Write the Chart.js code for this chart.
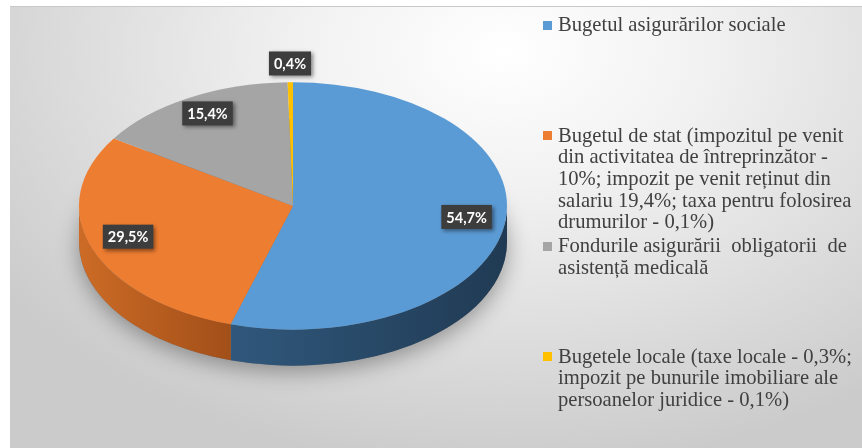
<!DOCTYPE html>
<html>
<head>
<meta charset="utf-8">
<script src="https://cdn.jsdelivr.net/npm/chart.js@4"></script>
<style>
html, body { margin: 0; padding: 0; background: #fff; }
#wrap { position: relative; width: 862px; height: 448px; overflow: hidden; }
#bg {
    position: absolute; left: 10px; top: 6px; right: 0; bottom: 0;
    border-top: 1px solid #c9c9c9;
    background: radial-gradient(ellipse 72% 95% at 58% 10%, #ffffff 0%, #f2f2f2 32%, #cbcbcb 100%);
}
#chart { position: absolute; left: 0; top: 0; }
#legend {
    position: absolute; left: 541px; top: 14px; width: 321px;
    font-family: "Liberation Serif", "Times New Roman", serif;
    font-size: 20.6px; color: #404040;
}
#legend .item { position: relative; height: 110.5px; padding-left: 17px; }
#legend .sw { position: absolute; left: 2px; top: 6.5px; width: 9px; height: 9px; }
#legend .ln { white-space: pre; line-height: 21.7px; }
</style>
</head>
<body>
<div id="wrap">
    <div id="bg"></div>
    <canvas id="chart" width="862" height="448"></canvas>
    <div id="legend"></div>
</div>
<script>
// categories, one array of lines per slice (wrapped the way the legend shows them)
const categories = [
    ['Bugetul asigurărilor sociale'],
    ['Bugetul de stat (impozitul pe venit', 'din activitatea de întreprinzător -', '10%; impozit pe venit reținut din', 'salariu 19,4%; taxa pentru folosirea', 'drumurilor - 0,1%)'],
    ['Fondurile asigurării  obligatorii  de', 'asistență medicală'],
    ['Bugetele locale (taxe locale - 0,3%;', 'impozit pe bunurile imobiliare ale', 'persoanelor juridice - 0,1%)']
];
const shares = [54.7, 29.5, 15.4, 0.4];

const topColors = ['#5b9bd5', '#ed7d31', '#a5a5a5', '#ffc000'];
const sideColors = [['#30587c', '#203a53'], ['#cc6b26', '#a24f19'], ['#7c7c7c', '#5e5e5e'], ['#bf9000', '#a07800']];

const TILT = 0.578;   // vertical squash of the disc
const DEPTH = 36;     // thickness of the side wall
const PIE_CY = 206;   // where the squashed centre lands

function fmt(v) {
    return v.toFixed(1).replace('.', ',') + '%';
}

const pie3d = {
    id: 'pie3d',
    beforeDatasetsDraw(chart) {
        const ctx = chart.ctx;
        const arcs = chart.getDatasetMeta(0).data;
        const cx = arcs[0].x, r = arcs[0].outerRadius, ry = r * TILT;

        // soft shadow under the disc
        ctx.save();
        ctx.shadowColor = 'rgba(0,0,0,0.35)';
        ctx.shadowBlur = 22;
        ctx.shadowOffsetY = 6;
        ctx.fillStyle = '#777';
        ctx.beginPath();
        ctx.ellipse(cx, PIE_CY + DEPTH, r, ry, 0, 0, Math.PI * 2);
        ctx.fill();
        ctx.restore();

        // side walls, only the front half is visible
        arcs.forEach((a, i) => {
            [0, -2 * Math.PI].forEach(shift => {
                const s = Math.max(a.startAngle + shift, 0);
                const e = Math.min(a.endAngle + shift, Math.PI);
                if (e <= s) return;
                const x0 = cx + r * Math.cos(s), x1 = cx + r * Math.cos(e);
                const g = ctx.createLinearGradient(Math.min(x0, x1), 0, Math.max(x0, x1), 0);
                g.addColorStop(0, sideColors[i][0]);
                g.addColorStop(1, sideColors[i][1]);
                ctx.beginPath();
                ctx.ellipse(cx, PIE_CY, r, ry, 0, s, e);
                ctx.ellipse(cx, PIE_CY + DEPTH, r, ry, 0, e, s, true);
                ctx.closePath();
                ctx.fillStyle = g;
                ctx.fill();
            });
        });

        // squash the top face
        ctx.save();
        ctx.translate(0, PIE_CY);
        ctx.scale(1, TILT);
        ctx.translate(0, -arcs[0].y);
    },
    afterDatasetsDraw(chart) {
        const ctx = chart.ctx;
        ctx.restore();

        const arcs = chart.getDatasetMeta(0).data;
        ctx.save();
        ctx.font = 'bold 14.5px Lato';
        ctx.textAlign = 'center';
        ctx.textBaseline = 'middle';
        arcs.forEach((a, i) => {
            const v = shares[i];
            const mid = (a.startAngle + a.endAngle) / 2;
            const f = v < 2 ? 1.12 : 0.82;
            const x = a.x + Math.cos(mid) * a.outerRadius * f;
            const y = PIE_CY + Math.sin(mid) * a.outerRadius * TILT * f - 4;
            const txt = fmt(v);
            const w = ctx.measureText(txt).width + 10, h = 24;
            ctx.save();
            ctx.shadowColor = 'rgba(0,0,0,0.45)';
            ctx.shadowBlur = 4;
            ctx.shadowOffsetX = 2;
            ctx.shadowOffsetY = 2;
            ctx.fillStyle = '#3d3d3d';
            ctx.fillRect(x - w / 2, y - h / 2, w, h);
            ctx.restore();
            ctx.fillStyle = '#ffffff';
            ctx.fillText(txt, x, y + 1);
        });
        ctx.restore();
    }
};

const ctx = document.getElementById('chart').getContext('2d');
const chart = new Chart(ctx, {
    type: 'pie',
    data: {
        labels: categories,
        datasets: [{
            data: shares,
            backgroundColor: topColors,
            borderWidth: 0
        }]
    },
    options: {
        responsive: false,
        animation: false,
        layout: {
            padding: { left: 79, right: 355, top: 10, bottom: 10 }
        },
        plugins: {
            legend: { display: false },
            tooltip: { enabled: false }
        }
    },
    plugins: [pie3d]
});

// legend in html so the long labels can wrap like the original
const legend = document.getElementById('legend');
chart.data.labels.forEach((lines, i) => {
    const item = document.createElement('div');
    item.className = 'item';
    const sw = document.createElement('div');
    sw.className = 'sw';
    sw.style.background = chart.data.datasets[0].backgroundColor[i];
    item.appendChild(sw);
    lines.forEach(t => {
        const ln = document.createElement('div');
        ln.className = 'ln';
        ln.textContent = t;
        item.appendChild(ln);
    });
    legend.appendChild(item);
});
</script>
</body>
</html>
